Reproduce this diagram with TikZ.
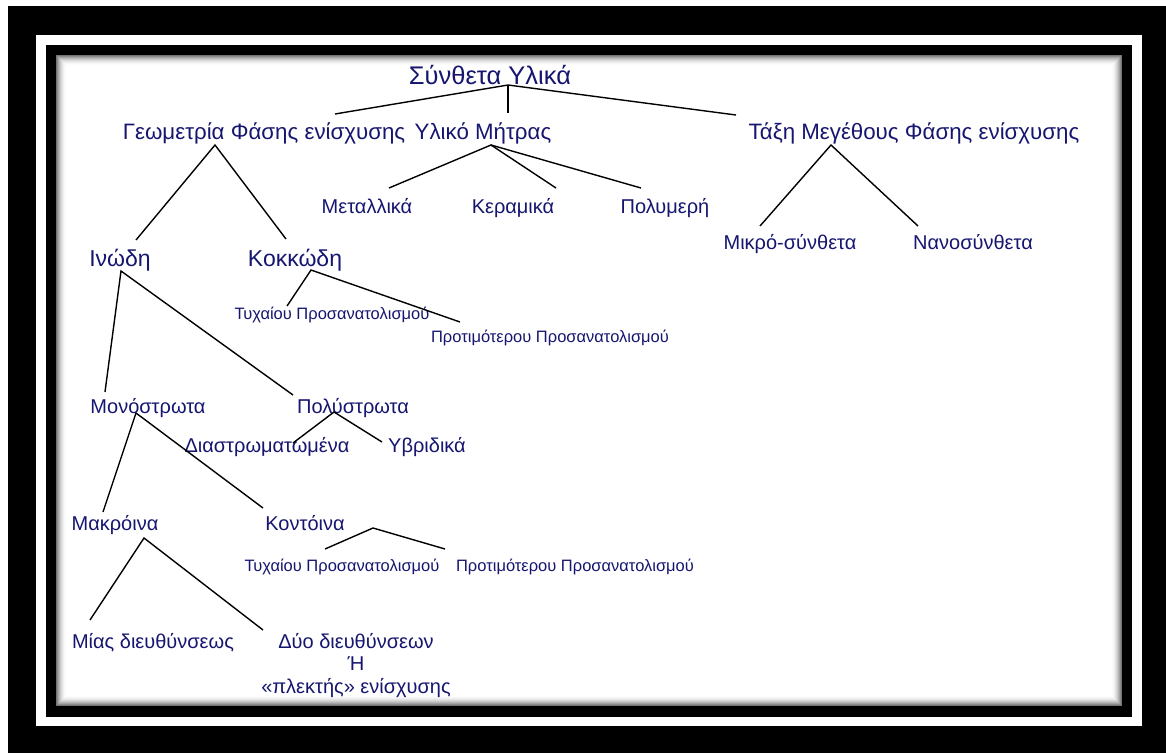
\documentclass[tikz,border=0pt]{standalone}
\usepackage{fontspec}
\setmainfont{Liberation Sans}
\definecolor{txt}{RGB}{22,22,112}
\begin{document}
\begin{tikzpicture}[x=1pt,y=-1pt,
  every node/.style={inner sep=0pt,outer sep=0pt,text=txt,anchor=base},
  lv0/.style={font=\fontsize{25.5}{30}\selectfont},
  lv1/.style={font=\fontsize{22.3}{26}\selectfont},
  lv2/.style={font=\fontsize{23}{27}\selectfont},
  lv3/.style={font=\fontsize{20}{24}\selectfont},
  sm/.style={font=\fontsize{16.5}{20}\selectfont},
  conn/.style={line width=1.4pt,black}]
\useasboundingbox (0,0) rectangle (1166,753);
\fill[white] (0,0) rectangle (1166,753);
\fill[black] (8,6) rectangle (1166,753);
\fill[white] (36,35) rectangle (1142,726);
\fill[black] (46,45) rectangle (1132,717);
\fill[white] (56,55) rectangle (1122,706);
\foreach \i/\c in {0/55,1/45,2/36,3/28,4/21,5/15,6/10,7/6,8/3,9/1}
  \draw[black!\c,line width=1pt] (56.5+\i,55.5+\i) rectangle (1121.5-\i,705.5-\i);
% nodes
\node[lv0] (root) at (490,84) {Σύνθετα Υλικά};
\node[lv1] (geo) at (264,139) {Γεωμετρία Φάσης ενίσχυσης};
\node[lv1] (mat) at (483,139) {Υλικό Μήτρας};
\node[lv1] (size) at (914,139) {Τάξη Μεγέθους Φάσης ενίσχυσης};
\node[lv3] (met) at (367,213) {Μεταλλικά};
\node[lv3] (cer) at (513,213) {Κεραμικά};
\node[lv3] (pol) at (665,213) {Πολυμερή};
\node[lv3] (micro) at (790,249) {Μικρό-σύνθετα};
\node[lv3] (nano) at (973,249) {Νανοσύνθετα};
\node[lv2] (inod) at (120,266) {Ινώδη};
\node[lv2] (kokk) at (295,266) {Κοκκώδη};
\node[sm] (ty1) at (332,319) {Τυχαίου Προσανατολισμού};
\node[sm] (pr1) at (550,342) {Προτιμότερου Προσανατολισμού};
\node[lv3] (mono) at (148,413) {Μονόστρωτα};
\node[lv3] (poly) at (353,413) {Πολύστρωτα};
\node[lv3] (dias) at (267,452) {Διαστρωματωμένα};
\node[lv3] (yvr) at (427,452) {Υβριδικά};
\node[lv3] (makr) at (115,530) {Μακρόινα};
\node[lv3] (kont) at (305,530) {Κοντόινα};
\node[sm] (ty2) at (342,571) {Τυχαίου Προσανατολισμού};
\node[sm] (pr2) at (575,571) {Προτιμότερου Προσανατολισμού};
\node[lv3] (mias) at (153,648) {Μίας διευθύνσεως};
\node[lv3,anchor=center,align=center,font=\fontsize{20}{22.5}\selectfont] (dyo) at (356,665.5) {Δύο διευθύνσεων\\Ή\\«πλεκτής» ενίσχυσης};
% junction coordinates
\coordinate (jroot) at (508,85);
\coordinate (jgeo) at (215,145);
\coordinate (jmat) at (491,145);
\coordinate (jsize) at (831,145);
\coordinate (jkokk) at (311,270);
\coordinate (jinod) at (121,271);
\coordinate (jmono) at (136,413);
\coordinate (jpoly) at (334,412);
\coordinate (jmakr) at (144,538);
\coordinate (jkont) at (373,528);
% end coordinates
\coordinate (egeo) at (335,114);
\coordinate (emat) at (508,113);
\coordinate (esize) at (736,115);
\coordinate (einod) at (136,240);
\coordinate (ekokk) at (286,239);
\coordinate (emet) at (389,188);
\coordinate (ecer) at (556,188);
\coordinate (epol) at (641,188);
\coordinate (emicro) at (760,226);
\coordinate (enano) at (918,226);
\coordinate (ety1) at (287,306);
\coordinate (epr1) at (460,322);
\coordinate (emono) at (105,392);
\coordinate (epoly) at (293,395);
\coordinate (edias) at (293,443);
\coordinate (eyvr) at (382,442);
\coordinate (emakr) at (103,512);
\coordinate (ekont) at (263,508);
\coordinate (ety2) at (325,549);
\coordinate (epr2) at (445,549);
\coordinate (emias) at (90,620);
\coordinate (edyo) at (263,630);
\draw[conn] (egeo) -- (jroot) -- (esize);
\draw[conn] (jroot) -- (emat);
\draw[conn] (einod) -- (jgeo) -- (ekokk);
\draw[conn] (emet) -- (jmat) -- (ecer);
\draw[conn] (jmat) -- (epol);
\draw[conn] (emicro) -- (jsize) -- (enano);
\draw[conn] (ety1) -- (jkokk) -- (epr1);
\draw[conn] (emono) -- (jinod) -- (epoly);
\draw[conn] (edias) -- (jpoly) -- (eyvr);
\draw[conn] (emakr) -- (jmono) -- (ekont);
\draw[conn] (ety2) -- (jkont) -- (epr2);
\draw[conn] (emias) -- (jmakr) -- (edyo);
\end{tikzpicture}
\end{document}
